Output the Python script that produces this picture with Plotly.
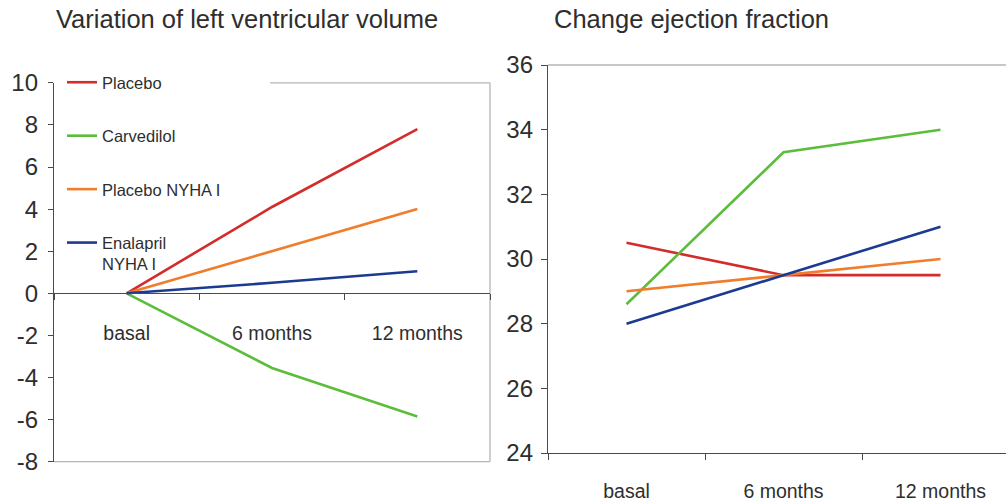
import plotly.graph_objects as go

# ---- data ----
categories = ["basal", "6 months", "12 months"]
series_names = ["Placebo", "Carvedilol", "Placebo NYHA I", "Enalapril<br>NYHA I"]
series_colors = ["#d42b2b", "#5cbd3c", "#f07d2c", "#1c3a90"]

lv_volume = {
    "Placebo": [0, 4.1, 7.8],
    "Carvedilol": [0, -3.55, -5.85],
    "Placebo NYHA I": [0, 2.0, 4.0],
    "Enalapril<br>NYHA I": [0, 0.5, 1.05],
}
ejection_fraction = {
    "Placebo": [30.5, 29.5, 29.5],
    "Carvedilol": [28.6, 33.3, 34.0],
    "Placebo NYHA I": [29.0, 29.5, 30.0],
    "Enalapril<br>NYHA I": [28.0, 29.5, 31.0],
}

left_ticks = [-8, -6, -4, -2, 0, 2, 4, 6, 8, 10]
left_ticktext = ["-8", "-6", "-4", "-2", "0", "2", "4", "6", "8", "10"]
right_ticks = [24, 26, 28, 30, 32, 34, 36]

left_title = "Variation of left ventricular volume"
right_title = "Change ejection fraction"

# ---- layout geometry (body margin removed by post_script) ----
W, H = 1006, 501
FONT = "Liberation Sans, Arial, sans-serif"
TXT = "#2e2e2e"
AX = "#4a4a4a"
BORDER = "#b5b5b5"


def px(x):
    return x / W


def py(y):
    return 1 - y / H


lx0, lx1 = px(54), px(490)
ly0, ly1 = py(461.7), py(82.8)
rx0, rx1 = px(548), 1.0
ry0, ry1 = py(453), py(65)
zero_pos = ly0 + (0 - left_ticks[0]) / (left_ticks[-1] - left_ticks[0]) * (ly1 - ly0)

fig = go.Figure()
for name, color in zip(series_names, series_colors):
    fig.add_trace(go.Scatter(
        x=categories, y=lv_volume[name], name=name, mode="lines",
        line=dict(color=color, width=2.6), xaxis="x", yaxis="y",
        legendgroup=name, showlegend=True,
    ))
for name, color in zip(series_names, series_colors):
    fig.add_trace(go.Scatter(
        x=categories, y=ejection_fraction[name], name=name, mode="lines",
        line=dict(color=color, width=2.6), xaxis="x2", yaxis="y2",
        legendgroup=name, showlegend=False,
    ))

axis_common = dict(showgrid=False, zeroline=False, showline=True,
                   linecolor=AX, linewidth=1.3, ticks="outside",
                   tickcolor=AX, tickwidth=1.3, automargin=False)

# right panel: category width as in the reference (about 157 px)
r_span = (W - 548) / 157.0

fig.update_layout(
    width=W, height=H,
    margin=dict(l=0, r=0, t=0, b=0, pad=0, autoexpand=False),
    paper_bgcolor="white", plot_bgcolor="white",
    font=dict(family=FONT, color=TXT),
    showlegend=True,
    legend=dict(x=px(62), y=py(65), xanchor="left", yanchor="top",
                bgcolor="rgba(0,0,0,0)", font=dict(size=16.5, color=TXT),
                tracegroupgap=29, valign="top", itemwidth=30),
    xaxis=dict(**axis_common, type="category", categoryorder="array",
               categoryarray=categories, range=[-0.5, 2.5],
               domain=[lx0, lx1], anchor="free", position=zero_pos,
               tickson="boundaries", ticklen=6,
               tickfont=dict(size=19.5, color=TXT), ticklabelstandoff=22),
    yaxis=dict(**axis_common, range=[left_ticks[0], left_ticks[-1]],
               domain=[ly0, ly1], anchor="x", tickvals=left_ticks,
               ticktext=left_ticktext, ticklen=5,
               tickfont=dict(size=24, color=TXT), ticklabelstandoff=5),
    xaxis2=dict(**axis_common, type="category", categoryorder="array",
                categoryarray=categories, range=[-0.5, -0.5 + r_span],
                domain=[rx0, rx1], anchor="y2",
                tickson="boundaries", ticklen=6,
                tickfont=dict(size=19.5, color=TXT), ticklabelstandoff=20),
    yaxis2=dict(**axis_common, range=[right_ticks[0], right_ticks[-1]],
                domain=[ry0, ry1], anchor="x2", tickvals=right_ticks,
                ticklen=6, tickfont=dict(size=24, color=TXT),
                ticklabelstandoff=3),
)

# panel frames (light grey borders)
border = dict(color=BORDER, width=1.3)
fig.add_shape(type="line", xref="x domain", yref="y domain",
              x0=1, x1=1, y0=0, y1=1, line=border, layer="below")
fig.add_shape(type="line", xref="x domain", yref="y domain",
              x0=0, x1=1, y0=0, y1=0, line=border, layer="below")
fig.add_shape(type="line", xref="x domain", yref="y domain",
              x0=(270 - 54) / 436, x1=1, y0=1, y1=1, line=border, layer="below")
fig.add_shape(type="line", xref="x2 domain", yref="y2 domain",
              x0=0, x1=1, y0=1, y1=1, line=border, layer="below")

# panel titles
fig.add_annotation(text=left_title, xref="paper", yref="paper",
                   x=px(54), y=py(19), xanchor="left", yanchor="middle",
                   showarrow=False, font=dict(size=25.5, color=TXT))
fig.add_annotation(text=right_title, xref="paper", yref="paper",
                   x=px(552), y=py(19), xanchor="left", yanchor="middle",
                   showarrow=False, font=dict(size=25.5, color=TXT))

fig.write_html(
    "out.html",
    config={"displayModeBar": False},
    post_script="document.body.style.margin='0';document.body.style.overflow='hidden';",
)
